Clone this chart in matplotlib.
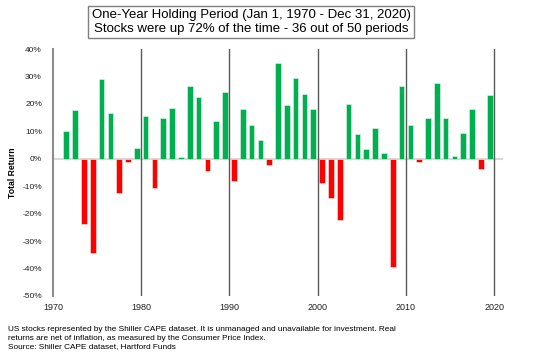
import numpy as np
import matplotlib
matplotlib.use("Agg")
import matplotlib.pyplot as plt

plt.rcParams['font.family'] = ['Liberation Sans', 'DejaVu Sans']

# one-year real returns (%); bar for year Y sits in slot Y..Y+1
years = list(range(1971, 2020))
returns = [10.0, 17.8, -23.7, -34.4, 29.1, 16.7, -12.5, -1.2, 4.1,
           15.7, -10.6, 14.7, 18.5, 0.6, 26.4, 22.6, -4.5, 13.6, 24.3,
           -8.2, 18.2, 12.2, 6.8, -2.3, 34.9, 19.5, 29.6, 23.5, 18.2,
           -8.9, -14.4, -22.3, 19.8, 9.1, 3.5, 11.2, 2.1, -39.4, 26.5,
           12.2, -1.0, 14.7, 27.6, 14.7, 1.1, 9.4, 18.2, -3.8, 23.2]
decades = [1980, 1990, 2000, 2010, 2020]
xticks = [1970, 1980, 1990, 2000, 2010, 2020]
yticks = list(range(-50, 41, 10))

title = ("One-Year Holding Period (Jan 1, 1970 - Dec 31, 2020)\n"
         "Stocks were up 72% of the time - 36 out of 50 periods")
footnote = ("US stocks represented by the Shiller CAPE dataset. It is unmanaged and unavailable for investment. Real\n"
            "returns are net of inflation, as measured by the Consumer Price Index.\n"
            "Source: Shiller CAPE dataset, Hartford Funds")

fig = plt.figure(figsize=(5.4, 3.59), dpi=100)
ax = fig.add_axes([53 / 540, 1 - 296 / 359, 450 / 540, 247 / 359])

x = np.array(years) + 0.5
vals = np.array(returns)
colors = np.where(vals >= 0, '#00b050', '#ff0000')
ax.axhline(0, color='#d9d9d9', lw=1.5, zorder=1)
ax.bar(x, vals, width=0.64, color=colors, edgecolor='#e6f5ec', linewidth=0.4, zorder=2)

for d in decades:
    ax.axvline(d, color='#595959', lw=1.0, zorder=3)

ax.set_xlim(1970, 2021)
ax.set_ylim(-50, 40)
ax.set_xticks(xticks)
ax.set_xticklabels([str(t) for t in xticks], fontsize=6.5)
ax.set_yticks(yticks)
ax.set_yticklabels([f'{t}%' for t in yticks], fontsize=6)
ax.tick_params(length=0, colors='#222222')
ax.tick_params(axis='y', pad=8)
ax.tick_params(axis='x', pad=5)
for s in ['top', 'right', 'bottom']:
    ax.spines[s].set_visible(False)
ax.spines['left'].set_color('#8c8c8c')
ax.spines['left'].set_linewidth(1.5)
ax.set_ylabel('Total Return', fontsize=6.2, fontweight='bold', labelpad=4)

fig.text(251 / 540, 1 - 22 / 359, title, ha='center', va='center', fontsize=9.5,
         linespacing=1.2,
         bbox=dict(boxstyle='square,pad=0.25', fc='white', ec='#7f7f7f', lw=1))
fig.text(8 / 540, 1 - 326 / 359, footnote, ha='left', va='top', fontsize=5.95,
         linespacing=1.35)

fig.savefig('out.png', dpi=100)
